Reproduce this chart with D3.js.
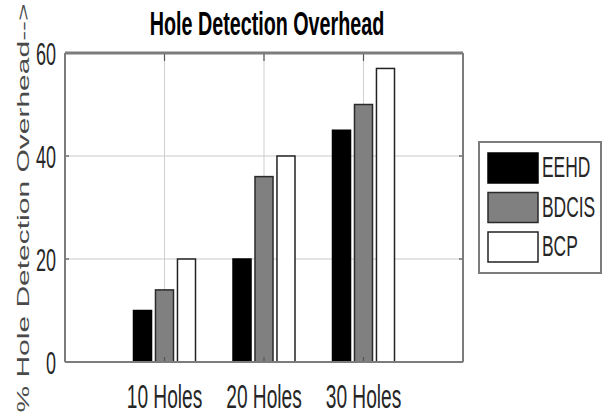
<!DOCTYPE html>
<html><head><meta charset="utf-8">
<script src="https://cdn.jsdelivr.net/npm/d3@7/dist/d3.min.js"></script>
<style>html,body{margin:0;padding:0;background:#fff;}svg{display:block;}</style>
</head><body>
<script>
const categories = ["10 Holes", "20 Holes", "30 Holes"];
const seriesNames = ["EEHD", "BDCIS", "BCP"];
const EEHD = [10, 20, 45];
const BDCIS = [14, 36, 50];
const BCP = [20, 40, 57];
const yTicks = [0, 20, 40, 60];
const title = "Hole Detection Overhead";
const yLabel = "% Hole Detection Overhead-->";
const seriesFill = ["#000000", "#808080", "#ffffff"];
const seriesStroke = ["#000000", "#2a2a2a", "#222222"];

const values = [EEHD, BDCIS, BCP];
const W = 603, H = 414;
const SX = 0.58; // horizontal squeeze of the original picture
const font = "'Liberation Sans', Arial, sans-serif";

const svg = d3.select("body").append("svg").attr("width", W).attr("height", H);

const plot = {left: 65, right: 463, top: 53, bottom: 362};
const x = d3.scaleLinear().domain([0, categories.length + 1]).range([plot.left, plot.right]);
const y = d3.scaleLinear().domain([0, 60]).range([plot.bottom, plot.top]);
const xs = d3.scaleBand().domain(seriesNames).range([-31, 31]).paddingInner(0.18).paddingOuter(0);

function squeezedText(g, tx, ty, str, size, anchor, weight, color) {
  const grp = g.append("g").attr("transform", `translate(${tx},${ty}) scale(${SX},1)`);
  grp.append("text").attr("x", 0).attr("y", 0)
    .attr("text-anchor", anchor).attr("font-family", font)
    .attr("font-size", size).attr("font-weight", weight || "normal")
    .attr("fill", color || "#262626").text(str);
  return grp;
}

// horizontal grid
svg.append("g").selectAll("line").data(yTicks.filter(t => t > 0 && t < 60)).join("line")
  .attr("x1", plot.left).attr("x2", plot.right)
  .attr("y1", d => y(d)).attr("y2", d => y(d))
  .attr("stroke", "#e4e4e4").attr("stroke-width", 2);
// vertical grid at categories
svg.append("g").selectAll("line").data(categories).join("line")
  .attr("x1", (d, i) => x(i + 1)).attr("x2", (d, i) => x(i + 1))
  .attr("y1", plot.top).attr("y2", plot.bottom)
  .attr("stroke", "#cfcfcf").attr("stroke-width", 1);

// bars
const groups = svg.append("g").selectAll("g").data(seriesNames).join("g");
groups.selectAll("rect").data((s, si) => categories.map((c, ci) => ({si, ci, v: values[si][ci]}))).join("rect")
  .attr("x", d => x(d.ci + 1) + xs(seriesNames[d.si]))
  .attr("width", xs.bandwidth())
  .attr("y", d => y(d.v))
  .attr("height", d => y(0) - y(d.v))
  .attr("fill", d => seriesFill[d.si])
  .attr("stroke", d => seriesStroke[d.si])
  .attr("stroke-width", 1.5);

// tick marks
const tk = svg.append("g").attr("stroke", "#555").attr("stroke-width", 1.2);
yTicks.filter(t => t > 0 && t < 60).forEach(t => {
  tk.append("line").attr("x1", plot.left).attr("x2", plot.left + 4).attr("y1", y(t)).attr("y2", y(t));
  tk.append("line").attr("x1", plot.right - 4).attr("x2", plot.right).attr("y1", y(t)).attr("y2", y(t));
});
categories.forEach((c, i) => {
  tk.append("line").attr("x1", x(i + 1)).attr("x2", x(i + 1)).attr("y1", plot.top).attr("y2", plot.top + 8);
  tk.append("line").attr("x1", x(i + 1)).attr("x2", x(i + 1)).attr("y1", plot.bottom).attr("y2", plot.bottom - 5);
});

// frame
const fr = svg.append("g").attr("fill", "none").attr("stroke", "#7c7c7c");
fr.append("line").attr("x1", plot.left).attr("x2", plot.right).attr("y1", plot.top).attr("y2", plot.top).attr("stroke-width", 3);
fr.append("line").attr("x1", plot.left).attr("x2", plot.right).attr("y1", plot.bottom).attr("y2", plot.bottom).attr("stroke-width", 2);
fr.append("line").attr("x1", plot.left).attr("x2", plot.left).attr("y1", plot.top).attr("y2", plot.bottom).attr("stroke-width", 2);
fr.append("line").attr("x1", plot.right).attr("x2", plot.right).attr("y1", plot.top).attr("y2", plot.bottom).attr("stroke-width", 2);

// y tick labels
yTicks.forEach(t => squeezedText(svg, plot.left - 9, y(t) + 12, String(t), 31, "end", "normal", "#262626"));
// x tick labels
categories.forEach((c, i) => squeezedText(svg, x(i + 1), 408, c, 33, "middle", "normal", "#262626"));
// title
squeezedText(svg, (plot.left + plot.right) / 2 + 3, 35, title, 34, "middle", "bold", "#000");
// y label
svg.append("g").attr("transform", `translate(29,208) scale(${SX},1) rotate(-90)`)
  .append("text").attr("text-anchor", "middle").attr("font-family", font)
  .attr("font-size", 30).attr("fill", "#4a4a4a").text(yLabel);

// legend
const lg = svg.append("g");
lg.append("rect").attr("x", 479).attr("y", 142).attr("width", 122).attr("height", 131)
  .attr("fill", "#fff").attr("stroke", "#7c7c7c").attr("stroke-width", 2);
seriesNames.forEach((s, i) => {
  const yy = 153 + i * 39.5;
  lg.append("rect").attr("x", 488).attr("y", yy).attr("width", 50).attr("height", 30)
    .attr("fill", seriesFill[i]).attr("stroke", seriesStroke[i]).attr("stroke-width", 1.5);
  squeezedText(lg, 542, yy + 24, s, 30, "start", "normal", "#262626");
});
</script>
</body></html>
